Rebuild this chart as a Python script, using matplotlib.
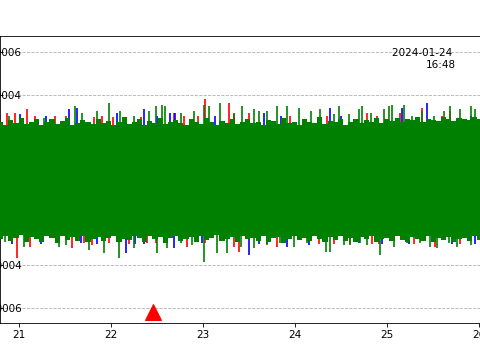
import matplotlib
matplotlib.use('Agg')
import matplotlib.pyplot as plt
import matplotlib.dates as mdates
from matplotlib.ticker import MultipleLocator, FormatStrFormatter
import numpy as np
from datetime import datetime

# ---- datos (tiempo en dia del mes de enero 2024, amplitud en 1e-6) ----
green_start_day = 20.80
green_bin_width = 0.0560
green_top = [2.72, 2.58, 2.80, 2.66, 2.90, 2.62, 2.74, 2.86, 2.60, 2.70,
             2.84, 2.64, 2.76, 2.92, 2.58, 2.68, 2.82, 2.70, 2.62, 2.88,
             2.66, 2.78, 2.60, 2.74, 2.94, 2.64, 2.70, 2.84, 2.58, 2.76,
             2.68, 2.90, 2.62, 2.72, 2.80, 2.66, 2.58, 2.86, 2.74, 2.64,
             2.92, 2.70, 2.60, 2.78, 2.68, 2.84, 2.62, 2.74, 2.88, 2.66,
             2.70, 2.58, 2.82, 2.76, 2.64, 2.90, 2.68, 2.72, 2.60, 2.86,
             2.74, 2.66, 2.94, 2.62, 2.78, 2.70, 2.84, 2.58, 2.72, 2.88,
             2.66, 2.80, 2.74, 2.92, 2.68, 2.84, 2.76, 2.90, 2.72, 2.86,
             2.80, 2.94, 2.74, 2.88, 2.82, 2.76, 2.96, 2.84, 2.78, 2.90,
             2.86, 2.80, 2.94, 2.84, 2.88, 2.82]
green_bot = [-2.74, -2.62, -2.86, -2.70, -2.58, -2.92, -2.66, -2.78, -2.88, -2.64,
             -2.72, -2.94, -2.60, -2.80, -2.68, -2.84, -2.62, -2.90, -2.76, -2.66,
             -2.86, -2.70, -2.60, -2.92, -2.74, -2.82, -2.64, -2.70, -2.88, -2.62,
             -2.78, -2.66, -2.94, -2.72, -2.60, -2.84, -2.76, -2.68, -2.90, -2.64,
             -2.80, -2.70, -2.58, -2.86, -2.74, -2.66, -2.92, -2.62, -2.78, -2.70,
             -2.84, -2.60, -2.88, -2.72, -2.66, -2.94, -2.76, -2.62, -2.82, -2.70,
             -2.86, -2.64, -2.74, -2.90, -2.68, -2.80, -2.60, -2.84, -2.72, -2.92,
             -2.66, -2.78, -2.62, -2.88, -2.74, -2.70, -2.86, -2.64, -2.80, -2.90,
             -2.68, -2.76, -2.84, -2.62, -2.92, -2.72, -2.80, -2.66, -2.88, -2.74,
             -2.70, -2.86, -2.64, -2.82, -2.76, -2.90]

green_spike_day = [20.891, 21.271, 21.615, 21.688, 21.851, 21.978, 22.104, 22.249, 22.412, 22.485,
                   22.557, 22.593, 22.757, 22.901, 23.010, 23.064, 23.191, 23.336, 23.427, 23.554,
                   23.608, 23.699, 23.807, 23.916, 24.043, 24.170, 24.278, 24.423, 24.478, 24.586,
                   24.695, 24.731, 24.822, 24.967, 25.021, 25.057, 25.184, 25.275, 25.383, 25.510,
                   25.619, 25.691, 25.800, 25.909, 25.963,
                   20.854, 21.054, 21.434, 21.507, 21.760, 21.923, 22.086, 22.249, 22.503, 22.612,
                   22.757, 22.883, 23.010, 23.155, 23.264, 23.409, 23.554, 23.699, 23.843, 23.988,
                   24.133, 24.333, 24.387, 24.532, 24.604, 24.713, 24.786, 24.930, 25.075, 25.220,
                   25.365, 25.474, 25.546, 25.673, 25.764, 25.909, 26.000]
green_spike_val = [3.00, 2.92, 3.47, 3.15, 3.23, 3.62, 3.23, 3.00, 3.23, 3.47,
                   3.54, 3.47, 3.15, 3.23, 3.54, 3.47, 3.62, 3.08, 3.47, 3.31,
                   3.23, 3.23, 3.47, 3.47, 3.39, 3.23, 3.31, 3.08, 3.47, 3.08,
                   3.31, 3.47, 3.15, 3.31, 3.47, 3.54, 3.54, 3.00, 3.23, 3.00,
                   3.23, 3.47, 3.31, 3.47, 3.31,
                   -2.89, -3.13, -3.13, -3.05, -3.28, -3.44, -3.67, -3.20, -3.44, -3.20,
                   -2.97, -3.05, -3.83, -3.44, -3.44, -3.13, -3.20, -3.05, -2.97, -3.13,
                   -2.97, -3.36, -3.36, -3.05, -3.05, -2.97, -3.05, -3.51, -3.13, -2.97,
                   -2.97, -3.13, -3.20, -2.97, -3.13, -3.05, -2.74]

red_spike_day = [20.872, 20.963, 21.090, 21.398, 21.507, 21.815, 21.905, 22.322, 22.684, 22.793,
                 23.028, 23.282, 23.336, 23.499, 24.786, 24.894, 25.148, 25.383, 25.691,
                 21.180, 22.020, 22.950, 23.950, 24.350, 25.600,
                 20.981, 21.126, 21.579, 21.706, 21.796, 21.978, 22.394, 22.485, 22.829, 23.028,
                 23.336, 23.391, 23.807, 24.260, 24.423, 24.840, 24.912, 25.528, 25.800,
                 22.200, 23.700, 24.600, 25.300]
red_spike_val = [3.15, 3.15, 3.31, 3.00, 3.00, 2.96, 3.00, 2.96, 3.15, 2.98,
                 3.78, 3.62, 3.15, 3.15, 3.15, 3.00, 3.15, 3.39, 3.23,
                 2.98, 2.96, 3.00, 2.98, 3.02, 3.00,
                 -3.67, -3.13, -3.20, -2.96, -3.05, -2.96, -2.96, -2.97, -3.13, -2.96,
                 -3.13, -3.36, -3.13, -2.98, -2.98, -2.98, -2.98, -3.13, -2.98,
                 -3.00, -2.98, -3.02, -2.98]

blue_spike_day = [21.017, 21.543, 21.633, 22.068, 22.358, 22.503, 22.648, 22.702, 23.137, 23.662,
                  24.387, 25.166, 25.438, 25.909, 21.300, 23.850, 24.500,
                  20.927, 21.235, 21.670, 22.159, 22.267, 22.358, 22.684, 22.992, 23.499, 23.608,
                  23.916, 24.151, 24.695, 25.238, 25.709, 25.963, 21.850, 24.950]
blue_spike_val = [3.08, 3.31, 3.39, 3.15, 3.31, 3.00, 3.15, 3.15, 3.00, 3.15,
                  3.39, 3.39, 3.62, 3.00, 2.98, 3.00, 2.98,
                  -2.98, -2.98, -2.97, -3.44, -2.98, -2.98, -3.20, -2.97, -3.51, -2.98,
                  -3.13, -3.05, -2.97, -2.98, -2.98, -2.98, -3.00, -2.98]

event_day = 22.458
event_val = -6.17

ytick_step = 2e-6
fecha_texto = "2024-01-24 \n16:48"


def a_fecha(dias):
    # dia del mes (enero 2024) -> numero de fecha de matplotlib
    base = mdates.date2num(datetime(2024, 1, 1))
    return base + np.asarray(dias, dtype=float) - 1.0


escala = 1e-6
green_bin_day = green_start_day + green_bin_width * np.arange(len(green_top))

fig = plt.figure(figsize=(6.4, 4.8), dpi=75)
ax = fig.add_axes([0.001, 0.1028, 1.1, 0.797])

# rojo y azul debajo, verde encima
ax.vlines(a_fecha(red_spike_day), 0, np.array(red_spike_val) * escala,
          color='red', linewidth=1.6, zorder=2)
ax.vlines(a_fecha(blue_spike_day), 0, np.array(blue_spike_val) * escala,
          color='blue', linewidth=1.6, zorder=2)
ax.fill_between(a_fecha(green_bin_day), np.array(green_bot) * escala,
                np.array(green_top) * escala, step='mid', color='green',
                linewidth=0, zorder=3)
ax.vlines(a_fecha(green_spike_day), 0, np.array(green_spike_val) * escala,
          color='green', linewidth=1.6, zorder=3)

ax.plot(a_fecha([event_day]), [event_val * escala], marker='^', color='red',
        markersize=16, linestyle='none', zorder=4)

ax.set_xlim(a_fecha([20.8])[0], a_fecha([20.8 + 528 / 92])[0])
ax.set_ylim(-6.70e-6, 6.75e-6)

ax.xaxis.set_major_locator(mdates.DayLocator())
ax.xaxis.set_major_formatter(mdates.DateFormatter('%d'))
ax.yaxis.set_major_locator(MultipleLocator(ytick_step))
ax.yaxis.set_major_formatter(FormatStrFormatter('%.6f'))
ax.tick_params(axis='y', direction='in', length=3, pad=-20.5)
ax.yaxis.grid(True, linestyle='--', color='#b0b0b0', linewidth=0.8)

fig.text(456 / 480, 1 - 48 / 360, fecha_texto, ha='right', va='top',
         fontsize=10)

fig.savefig('out.png', dpi=75)
